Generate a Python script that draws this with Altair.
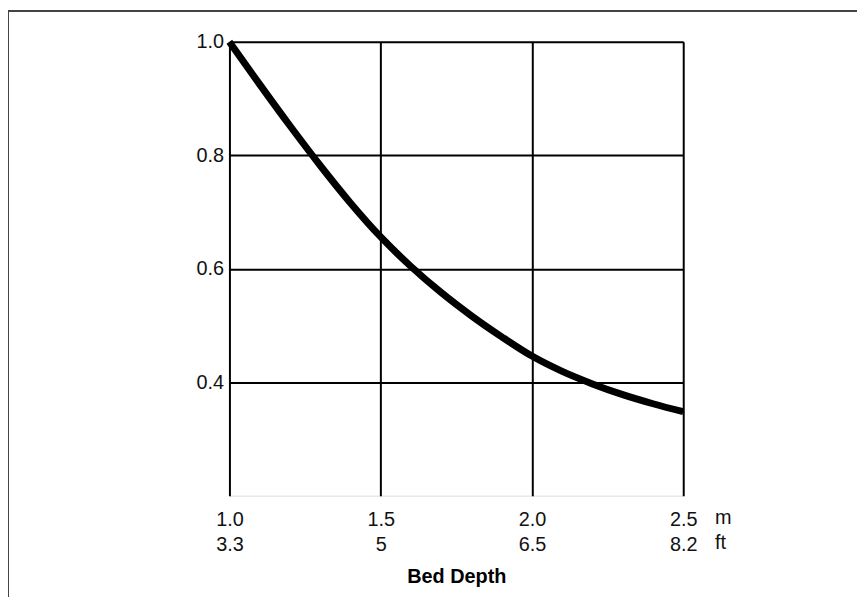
import altair as alt
import pandas as pd

# Bed depth (m) and relative value
depth_m = [1.0, 1.1, 1.2, 1.3, 1.4, 1.5, 1.6, 1.7, 1.8, 1.9, 2.0, 2.1, 2.2, 2.3, 2.4, 2.5]
value = [1.0, 0.925, 0.852, 0.782, 0.716, 0.656, 0.604, 0.558, 0.517, 0.480, 0.446,
         0.419, 0.397, 0.378, 0.362, 0.348]

# Axis ticks and labels
x_ticks = [1.0, 1.5, 2.0, 2.5]
x_labels_m = ["1.0", "1.5", "2.0", "2.5"]
x_labels_ft = ["3.3", "5", "6.5", "8.2"]
y_ticks = [0.4, 0.6, 0.8, 1.0]
units = ["m", "ft"]

df = pd.DataFrame({"depth": depth_m, "value": value})

label_expr = ""
for t, m, f in zip(x_ticks, x_labels_m, x_labels_ft):
    label_expr += f"abs(datum.value - {t}) < 0.001 ? ['{m}', '{f}'] : "
label_expr += "datum.label"

FONT = "Liberation Sans"
FS = 20

x_enc = alt.X(
    "depth:Q",
    scale=alt.Scale(domain=[1.0, 2.5], nice=False, zero=False),
    axis=alt.Axis(
        values=x_ticks, labelExpr=label_expr, title="Bed Depth",
        grid=True, gridColor="#000000", gridWidth=2, gridOpacity=1,
        domain=False, ticks=False, tickSize=0, labelFlush=False,
        labelPadding=14, labelLineHeight=25, labelFontSize=FS, labelFont=FONT,
        labelColor="#111111", labelBaseline="top",
        titleFont=FONT, titleFontSize=20, titleFontWeight="bold",
        titleColor="#000000", titlePadding=12,
    ),
)
y_enc = alt.Y(
    "value:Q",
    scale=alt.Scale(domain=[0.2, 1.0], nice=False, zero=False),
    axis=alt.Axis(
        values=y_ticks, format=".1f", title=None,
        grid=True, gridColor="#000000", gridWidth=2, gridOpacity=1,
        domain=False, ticks=False, tickSize=0, labelPadding=6,
        labelFontSize=FS, labelFont=FONT, labelColor="#111111",
    ),
)

curve = alt.Chart(df).mark_line(
    color="#000000", strokeWidth=7, interpolate="monotone", strokeCap="butt"
).encode(x=x_enc, y=y_enc)

unit_df = pd.DataFrame({"unit": units, "row": [0, 1]})
unit_m = alt.Chart(unit_df[unit_df.row == 0]).mark_text(
    align="left", baseline="middle", fontSize=FS, font=FONT, color="#111111", dx=32, dy=23
).encode(x=alt.datum(2.5), y=alt.datum(0.2), text="unit:N")
unit_ft = alt.Chart(unit_df[unit_df.row == 1]).mark_text(
    align="left", baseline="middle", fontSize=FS, font=FONT, color="#111111", dx=32, dy=48
).encode(x=alt.datum(2.5), y=alt.datum(0.2), text="unit:N")

one = pd.DataFrame({"a": [0]})
frame_top = alt.Chart(one).mark_rule(color="#444444", strokeWidth=2).encode(
    x=alt.value(-223), x2=alt.value(640), y=alt.value(-31)
)
frame_left = alt.Chart(one).mark_rule(color="#444444", strokeWidth=2).encode(
    x=alt.value(-223), y=alt.value(-31), y2=alt.value(570)
)

chart = alt.layer(frame_top, frame_left, curve, unit_m, unit_ft).properties(
    width=457,
    height=457,
    padding={"left": 223, "top": 32, "right": 175, "bottom": 100},
    autosize=alt.AutoSizeParams(type="none"),
).configure_view(stroke="#000000", strokeWidth=2).configure(background="white")

chart.save("out.html", embed_options={"renderer": "svg", "actions": False})
